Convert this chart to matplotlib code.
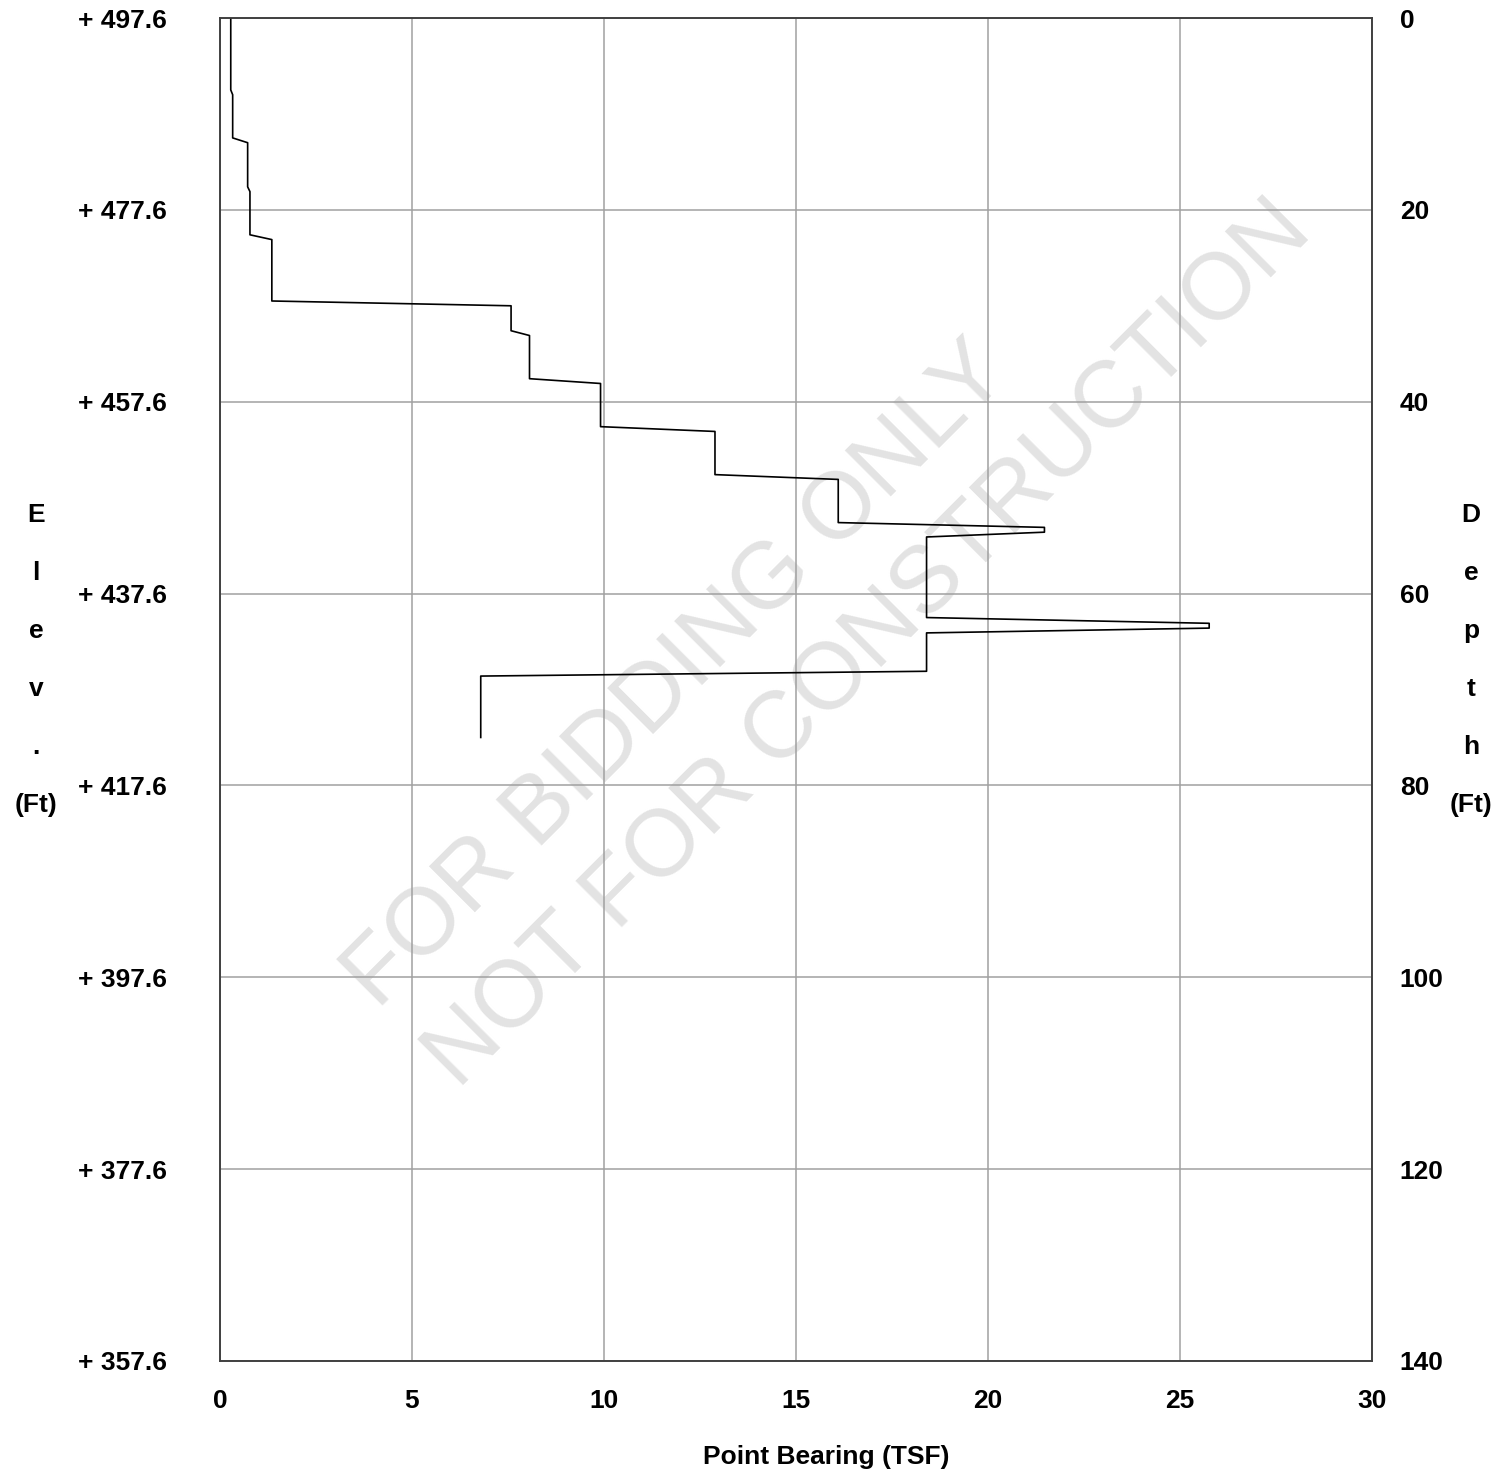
import matplotlib
matplotlib.use('Agg')
import matplotlib.pyplot as plt

plt.rcParams['font.family'] = ['Liberation Sans', 'DejaVu Sans']

# 数据: 深度 (ft) 与 点承载力 (TSF)
depth = [0, 7.5, 8.0, 12.5, 13.0, 17.6, 18.1, 22.6, 23.1, 29.5, 30.0,
         32.6, 33.1, 37.6, 38.1, 42.6, 43.1, 47.6, 48.1, 52.6, 53.1,
         53.6, 54.1, 62.5, 63.1, 63.6, 64.1, 68.1, 68.6, 75.0]
bearing = [0.28, 0.28, 0.33, 0.33, 0.72, 0.72, 0.78, 0.78, 1.35, 1.35, 7.58,
           7.58, 8.06, 8.06, 9.91, 9.91, 12.89, 12.89, 16.1, 16.1, 21.47,
           21.47, 18.4, 18.4, 25.76, 25.76, 18.4, 18.4, 6.79, 6.79]

depth_ticks = [0, 20, 40, 60, 80, 100, 120, 140]
elev_labels = ['+ 497.6', '+ 477.6', '+ 457.6', '+ 437.6', '+ 417.6',
               '+ 397.6', '+ 377.6', '+ 357.6']
x_ticks = [0, 5, 10, 15, 20, 25, 30]

W, H = 1510, 1473
fig = plt.figure(figsize=(W / 100, H / 100), dpi=100)


def px(x, y):
    return x / W, 1 - y / H


ax = fig.add_axes([220 / W, 1 - 1361 / H, (1372 - 220) / W, (1361 - 18) / H])

ax.plot(bearing, depth, color='black', linewidth=1.2, zorder=3)
ax.set_xlim(0, 30)
ax.set_ylim(140, 0)
ax.set_xticks(x_ticks)
ax.set_xticklabels([str(v) for v in x_ticks], fontsize=19, fontweight='bold')
ax.set_yticks(depth_ticks)
ax.set_yticklabels(elev_labels, fontsize=19, fontweight='bold')
ax.tick_params(axis='x', length=0, pad=20)
ax.tick_params(axis='y', length=0, pad=38)
ax.grid(True, color='#a0a0a0', linewidth=1.1)
ax.set_axisbelow(True)
for s in ax.spines.values():
    s.set_color('#404040')
    s.set_linewidth(1.2)

ax2 = ax.twinx()
ax2.set_ylim(140, 0)
ax2.set_yticks(depth_ticks)
ax2.set_yticklabels([str(v) for v in depth_ticks], fontsize=19, fontweight='bold')
ax2.tick_params(axis='y', length=0, pad=20)
for s in ax2.spines.values():
    s.set_color('#404040')
    s.set_linewidth(1.2)

# 水印
ax.text(*px(377, 1010), 'FOR BIDDING ONLY', transform=fig.transFigure,
        rotation=45, rotation_mode='anchor', ha='left', va='baseline',
        fontsize=68, color='#e3e3e3', zorder=0)
ax.text(*px(458, 1090), 'NOT FOR CONSTRUCTION', transform=fig.transFigure,
        rotation=45, rotation_mode='anchor', ha='left', va='baseline',
        fontsize=68, color='#e3e3e3', zorder=0)

# 坐标轴标题
fig.text(*px(826, 1457), 'Point Bearing (TSF)', ha='center', va='center',
         fontsize=19, fontweight='bold')
for i, ch in enumerate(['E', 'l', 'e', 'v', '.', '(Ft)']):
    fig.text(*px(36, 515 + 58 * i), ch, ha='center', va='center',
             fontsize=19, fontweight='bold')
for i, ch in enumerate(['D', 'e', 'p', 't', 'h', '(Ft)']):
    fig.text(*px(1471, 515 + 58 * i), ch, ha='center', va='center',
             fontsize=19, fontweight='bold')

fig.savefig('out.png', dpi=100)
